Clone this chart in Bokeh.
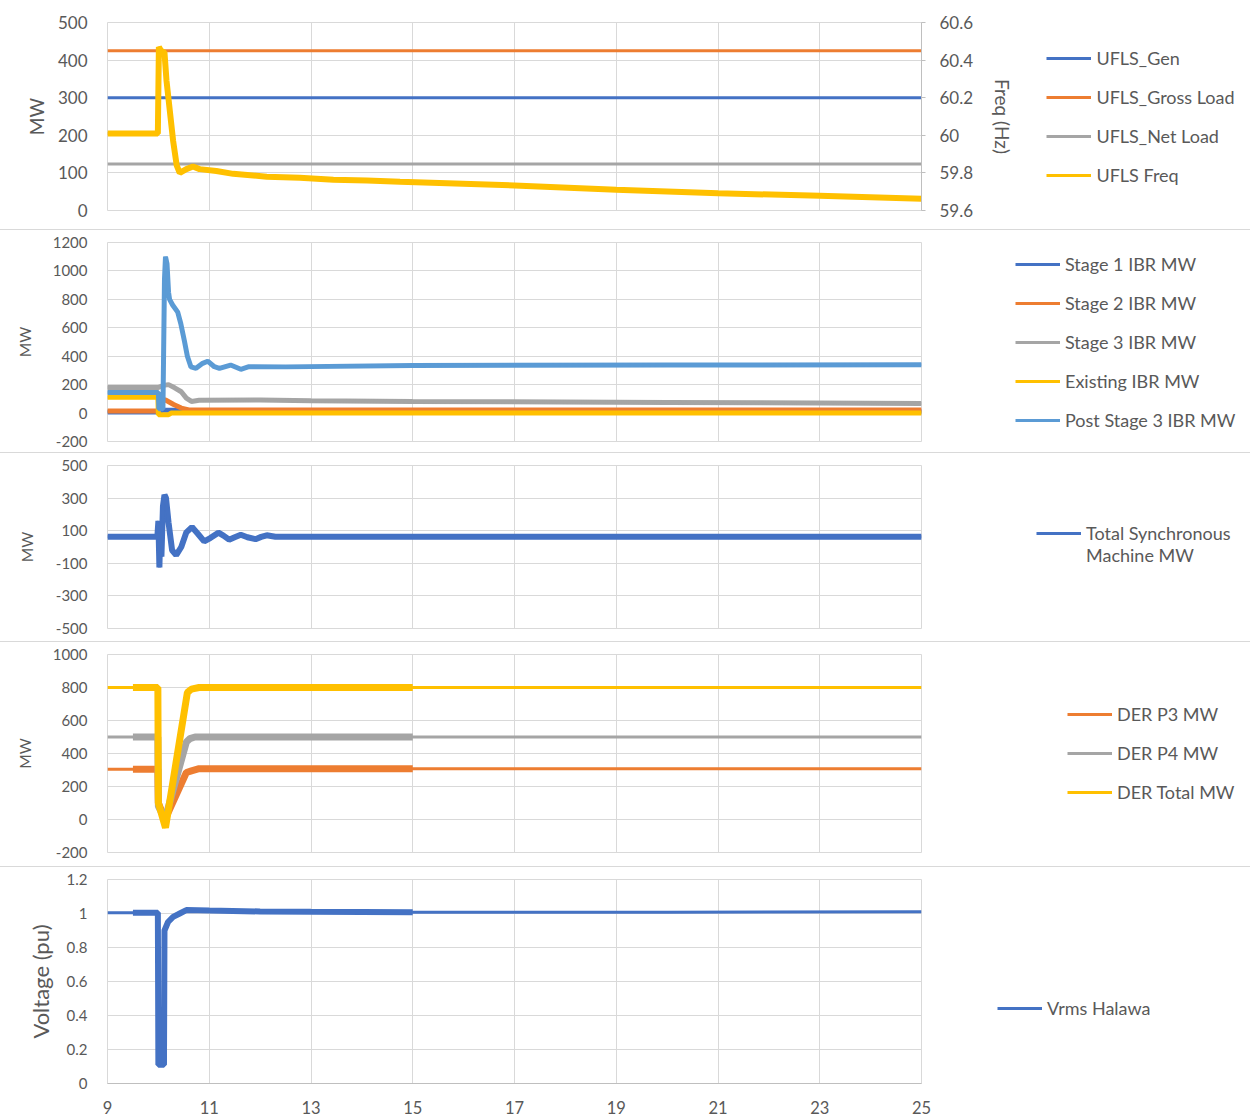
from bokeh.plotting import figure
from bokeh.models import (Range1d, LinearAxis, FixedTicker, PrintfTickFormatter,
                          Legend, LegendItem, Div)
from bokeh.layouts import column
from bokeh.embed import file_html
from bokeh.resources import INLINE

# ------------------------------------------------------------------ data
x_ticks = [9, 11, 13, 15, 17, 19, 21, 23, 25]

# Panel 1 - UFLS
p1_mw_ticks = [0, 100, 200, 300, 400, 500]
p1_freq_ticks = [59.6, 59.8, 60.0, 60.2, 60.4, 60.6]
ufls_time = [9.0, 25.0]
ufls_gen = [300, 300]
ufls_gross_load = [425, 425]
ufls_net_load = [124, 124]
freq_time = [9.0, 9.99, 10.01, 10.05, 10.12, 10.16, 10.29, 10.36, 10.42, 10.55, 10.68, 10.81,
             11.14, 11.47, 12.13, 12.78, 13.44, 14.10, 14.75, 17.0, 19.0, 21.0, 23.0, 25.0]
ufls_freq = [60.01, 60.01, 60.47, 60.45, 60.44, 60.29, 59.97, 59.84, 59.80, 59.82, 59.834, 59.82,
             59.81, 59.795, 59.78, 59.774, 59.763, 59.76, 59.753, 59.733, 59.71, 59.692, 59.678, 59.662]

# Panel 2 - IBR stages
p2_mw_ticks = [-200, 0, 200, 400, 600, 800, 1000, 1200]
stage1_time = [9.0, 10.0, 10.1, 10.4, 10.6, 25.0]
stage1_ibr = [8, 8, 20, 20, 10, 10]
stage2_time = [9.0, 10.0, 10.05, 10.15, 10.3, 10.45, 10.6, 25.0]
stage2_ibr = [15, 15, 100, 90, 60, 35, 22, 22]
stage3_time = [9.0, 10.0, 10.1, 10.2, 10.32, 10.45, 10.55, 10.65, 10.8, 12.0, 13.0, 15.0, 20.0, 25.0]
stage3_ibr = [180, 180, 195, 200, 178, 150, 105, 82, 90, 92, 86, 82, 75, 68]
existing_time = [9.0, 9.99, 10.0, 10.2, 10.25, 25.0]
existing_ibr = [112, 112, -12, -12, 0, 0]
post3_time = [9.0, 10.0, 10.01, 10.09, 10.12, 10.14, 10.17, 10.2, 10.22, 10.28, 10.38, 10.44, 10.51,
              10.57, 10.64, 10.74, 10.87, 10.97, 11.1, 11.2, 11.42, 11.62, 11.78, 12.5, 15.0, 20.0, 25.0]
post3_ibr = [145, 145, 30, 30, 940, 1100, 1050, 850, 800, 760, 710, 630, 510,
             400, 325, 315, 350, 365, 326, 315, 338, 308, 326, 325, 335, 338, 340]

# Panel 3 - synchronous machines
p3_mw_ticks = [-500, -300, -100, 100, 300, 500]
sync_time = [9.0, 9.98, 10.0, 10.02, 10.04, 10.06, 10.09, 10.12, 10.15, 10.2, 10.27, 10.35, 10.45,
             10.55, 10.66, 10.78, 10.9, 11.02, 11.18, 11.28, 11.39, 11.5, 11.62, 11.75, 11.91,
             12.02, 12.13, 12.3, 25.0]
sync_mw = [63, 63, 160, -125, 140, -60, 250, 320, 300, 150, -20, -50, 0,
           90, 122, 80, 35, 55, 88, 70, 45, 60, 75, 60, 48,
           62, 72, 63, 63]

# Panel 4 - DER
p4_mw_ticks = [-200, 0, 200, 400, 600, 800, 1000]
der_p3_time = [9.0, 9.5, 9.99, 10.0, 10.13, 10.55, 10.65, 10.8, 15.0, 25.0]
der_p3_mw = [305, 305, 305, 100, 0, 285, 295, 308, 308, 308]
der_p4_time = [9.0, 9.5, 9.99, 10.0, 10.13, 10.55, 10.62, 10.72, 15.0, 25.0]
der_p4_mw = [500, 500, 500, 80, 0, 470, 490, 500, 500, 500]
der_total_time = [9.0, 9.5, 9.99, 10.0, 10.14, 10.57, 10.65, 10.8, 15.0, 25.0]
der_total_mw = [800, 800, 800, 100, -50, 770, 790, 800, 800, 800]

# Panel 5 - voltage
p5_v_ticks = [0, 0.2, 0.4, 0.6, 0.8, 1.0, 1.2]
vrms_time = [9.0, 9.5, 9.99, 10.0, 10.11, 10.12, 10.19, 10.29, 10.42, 10.55, 11.0, 12.0, 13.0, 15.0, 20.0, 25.0]
vrms_halawa = [1.005, 1.005, 1.005, 0.11, 0.11, 0.90, 0.95, 0.98, 1.0, 1.02, 1.017, 1.012, 1.01, 1.008, 1.008, 1.01]

# ------------------------------------------------------------------ style
BLUE, ORANGE, GRAY, YELLOW, LBLUE = "#4472C4", "#ED7D31", "#A5A5A5", "#FFC000", "#5B9BD5"
GRID, AXIS, TEXT, SEP = "#D9D9D9", "#BFBFBF", "#595959", "#D9D9D9"
W = 1250
LEFT, FW = 107, 814
RIGHT = W - LEFT - FW
LATO = "Lato"


def make_fig(fh, top, bottom, yr, yticks, size, standoff):
    p = figure(frame_width=FW, frame_height=fh, x_range=Range1d(9, 25), y_range=Range1d(*yr),
               output_backend="svg", toolbar_location=None,
               min_border_left=LEFT, min_border_right=RIGHT,
               min_border_top=top, min_border_bottom=bottom)
    p.outline_line_color = GRID
    p.background_fill_color = "white"
    p.border_fill_color = "white"
    p.xaxis.ticker = FixedTicker(ticks=x_ticks)
    p.xgrid.ticker = FixedTicker(ticks=x_ticks)
    p.yaxis.ticker = FixedTicker(ticks=yticks)
    p.ygrid.ticker = FixedTicker(ticks=yticks)
    p.xgrid.grid_line_color = GRID
    p.ygrid.grid_line_color = GRID
    ya = p.yaxis[0]
    ya.formatter = PrintfTickFormatter(format="%g")
    ya.axis_line_color = None
    ya.major_tick_line_color = None
    ya.minor_tick_line_color = None
    ya.major_tick_out = 0
    ya.major_tick_in = 0
    ya.major_label_standoff = standoff
    ya.major_label_text_font = LATO
    ya.major_label_text_font_size = size
    ya.major_label_text_color = TEXT
    ya.axis_label_text_color = TEXT
    ya.axis_label_text_font = LATO
    ya.axis_label_text_font_style = "normal"
    return p


def thick(p, t, y, color, width, **kw):
    p.line(t, y, line_color=color, line_width=width, **kw)
    return p.line(t, y, line_color=color, line_width=3, **kw)


def windowed(p, t, y, color, width):
    r = p.line(t, y, line_color=color, line_width=3)
    tw = [a for a in t if 9.5 <= a <= 15]
    yw = [b for a, b in zip(t, y) if 9.5 <= a <= 15]
    p.line(tw, yw, line_color=color, line_width=width)
    return r


def add_legend(p, items, x, y, size="18px", lh=1.35):
    lg = Legend(items=[LegendItem(label=l, renderers=[r]) for l, r in items],
                location=(x, y), orientation="vertical", glyph_width=45, glyph_height=20,
                label_height=20, spacing=17, padding=0, margin=0, label_standoff=5,
                border_line_color=None, background_fill_alpha=0,
                label_text_font=LATO, label_text_font_size=size, label_text_color=TEXT,
                label_text_line_height=lh)
    p.add_layout(lg, "right")


# ------------------------------------------------------------------ panel 1
p1 = make_fig(188, 22, 19, (0, 500), p1_mw_ticks, "17px", 20)
p1.xaxis.visible = False
p1.yaxis.axis_label = "MW"
p1.yaxis.axis_label_text_font_size = "19px"
p1.yaxis.axis_label_standoff = 7
p1.extra_y_ranges = {"freq": Range1d(59.6, 60.6)}
ra = LinearAxis(y_range_name="freq", ticker=FixedTicker(ticks=p1_freq_ticks),
                formatter=PrintfTickFormatter(format="%g"), axis_label="Freq (Hz)")
ra.axis_line_color = AXIS
ra.major_tick_line_color = AXIS
ra.minor_tick_line_color = None
ra.major_tick_out = 4
ra.major_tick_in = 0
ra.major_label_standoff = 14
ra.major_label_text_font = LATO
ra.major_label_text_font_size = "17px"
ra.major_label_text_color = TEXT
ra.axis_label_text_font = LATO
ra.axis_label_text_font_size = "19px"
ra.axis_label_text_font_style = "normal"
ra.axis_label_text_color = TEXT
ra.axis_label_standoff = 15
p1.add_layout(ra, "right")
r_gen = p1.line(ufls_time, ufls_gen, line_color=BLUE, line_width=3)
r_gross = p1.line(ufls_time, ufls_gross_load, line_color=ORANGE, line_width=3)
r_net = p1.line(ufls_time, ufls_net_load, line_color=GRAY, line_width=3)
r_freq = thick(p1, freq_time, ufls_freq, YELLOW, 6, y_range_name="freq")
add_legend(p1, [("UFLS_Gen", r_gen), ("UFLS_Gross Load", r_gross),
                ("UFLS_Net Load", r_net), ("UFLS Freq", r_freq)], -198, 24)

# ------------------------------------------------------------------ panel 2
p2 = make_fig(199, 12, 11, (-200, 1200), p2_mw_ticks, "15px", 20)
p2.xaxis.visible = False
p2.yaxis.axis_label = "MW"
p2.yaxis.axis_label_text_font_size = "15.5px"
p2.yaxis.axis_label_standoff = 16
r_s1 = thick(p2, stage1_time, stage1_ibr, BLUE, 5)
r_s2 = thick(p2, stage2_time, stage2_ibr, ORANGE, 5)
r_s3 = thick(p2, stage3_time, stage3_ibr, GRAY, 5)
r_ex = thick(p2, existing_time, existing_ibr, YELLOW, 5)
r_p3 = thick(p2, post3_time, post3_ibr, LBLUE, 5)
add_legend(p2, [("Stage 1 IBR MW", r_s1), ("Stage 2 IBR MW", r_s2), ("Stage 3 IBR MW", r_s3),
                ("Existing IBR MW", r_ex), ("Post Stage 3 IBR MW", r_p3)], 94, 10)

# ------------------------------------------------------------------ panel 3
p3 = make_fig(163, 12, 13, (-500, 500), p3_mw_ticks, "15px", 20)
p3.xaxis.visible = False
p3.yaxis.axis_label = "MW"
p3.yaxis.axis_label_text_font_size = "15.5px"
p3.yaxis.axis_label_standoff = 17
r_sync = thick(p3, sync_time, sync_mw, BLUE, 6)
add_legend(p3, [("\nTotal Synchronous\nMachine MW", r_sync)], 115, 62, lh=1.5)

# ------------------------------------------------------------------ panel 4
p4 = make_fig(198, 12, 14, (-200, 1000), p4_mw_ticks, "15px", 20)
p4.xaxis.visible = False
p4.yaxis.axis_label = "MW"
p4.yaxis.axis_label_text_font_size = "15.5px"
p4.yaxis.axis_label_standoff = 16
r_d3 = windowed(p4, der_p3_time, der_p3_mw, ORANGE, 7)
r_d4 = windowed(p4, der_p4_time, der_p4_mw, GRAY, 7)
r_dt = windowed(p4, der_total_time, der_total_mw, YELLOW, 7)
add_legend(p4, [("DER P3 MW", r_d3), ("DER P4 MW", r_d4), ("DER Total MW", r_dt)], 146, 49)

# ------------------------------------------------------------------ panel 5
p5 = make_fig(204, 12, 36, (0, 1.2), p5_v_ticks, "15px", 20)
p5.yaxis.axis_label = "Voltage (pu)"
p5.yaxis.axis_label_text_font_size = "22px"
p5.yaxis.axis_label_standoff = 10
xa = p5.xaxis[0]
xa.axis_line_color = AXIS
xa.major_tick_line_color = None
xa.minor_tick_line_color = None
xa.major_tick_out = 0
xa.major_tick_in = 0
xa.major_label_standoff = 17
xa.major_label_text_font = LATO
xa.major_label_text_font_size = "16.5px"
xa.major_label_text_color = TEXT
r_v = windowed(p5, vrms_time, vrms_halawa, BLUE, 6)
add_legend(p5, [("Vrms Halawa", r_v)], 76, 64)


def sep():
    return Div(width=W, height=1, margin=0, styles={"background-color": SEP})


layout = column(p1, sep(), p2, sep(), p3, sep(), p4, sep(), p5, spacing=0)
open("out.html", "w").write(file_html(layout, INLINE, "UFLS"))
